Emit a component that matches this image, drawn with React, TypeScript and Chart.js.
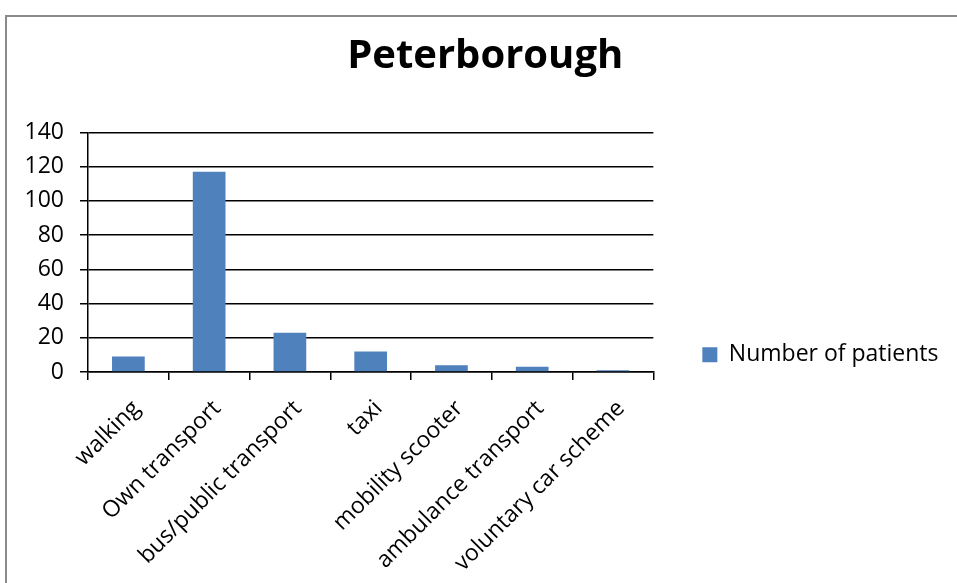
import React, { useEffect, useRef } from "react";
import { Chart, registerables } from "chart.js";

Chart.register(...registerables);

const chartTitle = "Peterborough";
const seriesLabel = "Number of patients";
const categories = [
  "walking",
  "Own transport",
  "bus/public transport",
  "taxi",
  "mobility scooter",
  "ambulance transport",
  "voluntary car scheme",
];
const patients = [9, 117, 23, 12, 4, 3, 1];
const yMin = 0;
const yMax = 140;
const yStep = 20;

const FONT = "'Open Sans', 'Noto Sans', sans-serif";

export default function App() {
  const ref = useRef<HTMLCanvasElement>(null);

  useEffect(() => {
    const framePlugin = {
      id: "frame",
      beforeDraw(chart: any) {
        const ctx = chart.ctx;
        ctx.save();
        ctx.fillStyle = "#ffffff";
        ctx.fillRect(0, 0, chart.width, chart.height);
        ctx.strokeStyle = "#8a8a8a";
        ctx.lineWidth = 2;
        ctx.strokeRect(6, 16, chart.width + 20, chart.height + 20);
        ctx.restore();
      },
    };

    const tickFont = { family: FONT, size: 23 };

    const chart = new Chart(ref.current as HTMLCanvasElement, {
      type: "bar",
      data: {
        labels: categories,
        datasets: [
          {
            label: seriesLabel,
            data: patients,
            backgroundColor: "#4F81BD",
            borderWidth: 0,
            categoryPercentage: 1,
            barPercentage: 0.405,
          },
        ],
      },
      options: {
        animation: false,
        responsive: false,
        devicePixelRatio: 1,
        layout: { padding: { left: 22, right: 8.5, top: 0, bottom: 0 } },
        plugins: {
          title: {
            display: true,
            text: chartTitle,
            color: "#000",
            font: { family: FONT, size: 40, weight: "bold" },
            padding: { top: 33, bottom: 51.5 },
          },
          legend: {
            position: "right",
            maxWidth: 320,
            title: {
              display: true,
              text: "",
              font: { family: FONT, size: 10 },
              padding: { top: 114.5, bottom: 0 },
            },
            labels: {
              boxWidth: 15,
              boxHeight: 15,
              padding: 10,
              color: "#000",
              font: tickFont,
            },
          },
          tooltip: { enabled: false },
        },
        scales: {
          x: {
            grid: {
              drawOnChartArea: false,
              color: "#000",
              lineWidth: 1.5,
              tickLength: 8,
              offset: true,
            },
            border: { color: "#000", width: 1.5 },
            ticks: {
              color: "#000",
              font: tickFont,
              minRotation: 45,
              maxRotation: 45,
              padding: 15,
              labelOffset: 8,
              autoSkip: false,
            },
            afterFit: (s: any) => {
              s.height = 211;
            },
          },
          y: {
            min: yMin,
            max: yMax,
            ticks: { stepSize: yStep, color: "#000", font: tickFont, padding: 16 },
            grid: { color: "#000", lineWidth: 1.5, tickLength: 8 },
            border: { color: "#000", width: 1.5 },
            afterFit: (s: any) => {
              s.width = 66;
            },
          },
          yR: {
            position: "right",
            ticks: { display: false },
            grid: { display: false },
            border: { display: false },
            afterFit: (s: any) => {
              s.width = 39;
            },
          },
        },
      } as any,
      plugins: [framePlugin],
    });
    return () => chart.destroy();
  }, []);

  return (
    <div
      style={{
        position: "fixed",
        left: 0,
        top: 0,
        width: 957,
        height: 583,
        background: "#fff",
      }}
    >
      <canvas
        ref={ref}
        width={957}
        height={583}
        style={{ display: "block", width: 957, height: 583 }}
      />
    </div>
  );
}
